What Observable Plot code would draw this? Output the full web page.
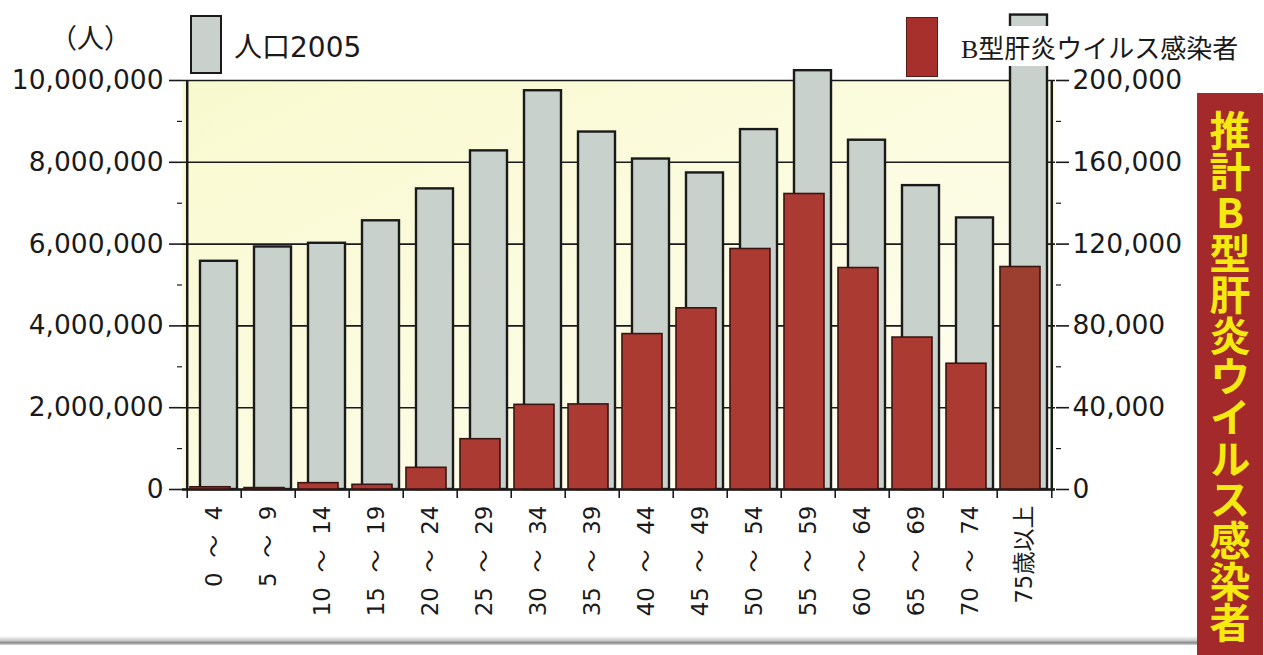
<!DOCTYPE html>
<html><head><meta charset="utf-8">
<script src="https://cdn.jsdelivr.net/npm/d3@7"></script>
<script src="https://cdn.jsdelivr.net/npm/@observablehq/plot@0.6"></script>
<style>
body{margin:0;background:#fff;width:1264px;height:655px;overflow:hidden;position:relative;font-family:"DejaVu Sans","Noto Sans CJK JP",sans-serif;color:#1a1a1a;}
#chart{position:absolute;left:0;top:0;}
.abs{position:absolute;white-space:nowrap;}
</style></head><body>
<div id="chart"></div>
<div class="abs" style="left:50px;top:22px;font-size:27px;line-height:30px;font-family:'Noto Sans CJK JP';">（人）</div>
<div class="abs" style="left:190px;top:15px;width:32px;height:59px;box-sizing:border-box;background:#c9d1cd;border:2px solid #1a1a1a;"></div>
<div class="abs" style="left:234px;top:33px;font-size:28px;line-height:30px;">人口2005</div>
<div class="abs" style="left:906px;top:17px;width:32px;height:60px;box-sizing:border-box;background:#a8302c;border:1px solid #5a1a16;"></div>
<div class="abs" style="left:955px;top:26px;width:296px;height:40px;background:#fff;"></div>
<div class="abs" style="left:961px;top:33px;font-size:26px;line-height:27px;font-family:'Noto Sans CJK JP';"><span style="font-family:'Liberation Serif';">B</span>型肝炎ウイルス感染者</div>
<div class="abs" style="left:1197px;top:93px;width:66px;height:562px;background:#a4292a;"></div>
<div class="abs" style="left:1197px;top:110px;width:66px;height:540px;writing-mode:vertical-rl;text-orientation:upright;font-family:'Noto Sans CJK JP';font-weight:bold;font-size:41px;line-height:66px;letter-spacing:0;color:#f4ea10;">推計B型肝炎ウイルス感染者</div>
<div class="abs" style="left:0;top:636px;width:1197px;height:9px;background:linear-gradient(#ffffff00,#c8c8c8 50%,#8a8a8a 75%,#d8d8d8);"></div>
<script>
const ageGroups = ["0 ～ 4","5 ～ 9","10 ～ 14","15 ～ 19","20 ～ 24","25 ～ 29","30 ～ 34","35 ～ 39","40 ～ 44","45 ～ 49","50 ～ 54","55 ～ 59","60 ～ 64","65 ～ 69","70 ～ 74","75歳以上"];
const population2005 = [5580000, 5930000, 6020000, 6570000, 7350000, 8280000, 9750000, 8740000, 8080000, 7740000, 8800000, 10240000, 8540000, 7430000, 6640000, 11600000];
const hbvCarriers = [1100, 700, 3100, 2300, 10600, 24600, 41400, 41600, 76000, 88600, 117600, 144500, 108300, 74300, 61500, 108800];
const leftTicks = [0, 2000000, 4000000, 6000000, 8000000, 10000000];
const minorTicks = [1000000, 3000000, 5000000, 7000000, 9000000];
const popMax = 10000000, hbvMax = 200000;

const data = ageGroups.map((age, i) => ({age, pop: population2005[i], hbv: hbvCarriers[i]}));
const W = 1264, H = 655, mL = 182, mR = 209, mT = 80, mB = 166;
const bw = (W - mL - mR) / ageGroups.length;
const ratio = popMax / hbvMax;
const fmt = d3.format(",");
const ink = "#1a1a1a";
const last = ageGroups[ageGroups.length - 1];

const plot = Plot.plot({
  width: W, height: H,
  marginLeft: mL, marginRight: mR, marginTop: mT, marginBottom: mB,
  style: {background: "transparent", fontFamily: "DejaVu Sans, Noto Sans CJK JP, sans-serif", color: ink, overflow: "visible"},
  x: {domain: ageGroups, padding: 0},
  y: {domain: [0, popMax]},
  marks: [
    Plot.frame({fill: "url(#bgGrad)", stroke: null}),
    Plot.ruleY(leftTicks, {stroke: ink, strokeWidth: 1.6}),
    Plot.ruleY([0], {stroke: ink, strokeWidth: 2.5}),
    Plot.barY(data, {x: "age", y: "pop", fill: "#c9d1cd", stroke: ink, strokeWidth: 2.4, insetLeft: 13, insetRight: 4}),
    Plot.barY(data, {x: "age", y: d => d.hbv * ratio, fill: d => d.age === last ? "#9c3f31" : "#ab3a33", stroke: "#3a1512", strokeWidth: 1.6, insetLeft: 3, insetRight: 11}),
    Plot.ruleX([ageGroups[0]], {dx: -bw / 2, stroke: ink, strokeWidth: 2.5}),
    Plot.ruleX([last], {dx: bw / 2, stroke: ink, strokeWidth: 2.5}),
    Plot.tickX(ageGroups, {x: d => d, dx: -bw / 2, insetTop: H - mT - mB, insetBottom: -9, stroke: ink, strokeWidth: 1.6}),
    Plot.tickX([last], {x: d => d, dx: bw / 2, insetTop: H - mT - mB, insetBottom: -9, stroke: ink, strokeWidth: 1.6}),
    Plot.axisY(leftTicks, {anchor: "left", tickSize: 13, tickPadding: 6, tickFormat: fmt, fontSize: 26.5, label: null, strokeWidth: 1.6}),
    Plot.axisY(minorTicks, {anchor: "left", tickSize: 5, tickFormat: () => "", label: null, strokeWidth: 1.2}),
    Plot.axisY(leftTicks, {anchor: "right", tickSize: 13, tickPadding: 4, tickFormat: d => fmt(d / ratio), fontSize: 26.5, label: null, strokeWidth: 1.6}),
    Plot.axisY(minorTicks, {anchor: "right", tickSize: 5, tickFormat: () => "", label: null, strokeWidth: 1.2}),
    Plot.axisX({anchor: "bottom", tickSize: 0, tickPadding: 16, tickRotate: -90, fontSize: 23, label: null, tickFormat: d => d.replace(/ /g, "\u00a0 ")})
  ]
});

const ns = "http://www.w3.org/2000/svg";
const defs = document.createElementNS(ns, "defs");
defs.innerHTML = '<linearGradient id="bgGrad" x1="0" y1="0" x2="1" y2="1"><stop offset="0" stop-color="#f9f9cf"/><stop offset="0.6" stop-color="#fcfce4"/><stop offset="1" stop-color="#fefef8"/></linearGradient>';
plot.insertBefore(defs, plot.firstChild);
document.getElementById("chart").appendChild(plot);
</script>
</body></html>
